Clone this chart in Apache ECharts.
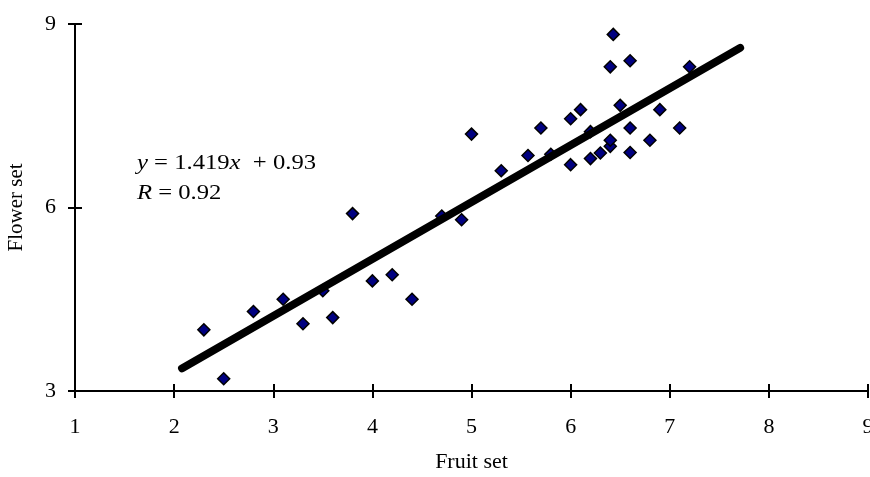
<!DOCTYPE html>
<html>
<head>
<meta charset="utf-8">
<script src="https://cdn.jsdelivr.net/npm/echarts@6/dist/echarts.min.js"></script>
<style>
  html, body { margin: 0; padding: 0; background: #fff; }
  #chart { width: 870px; height: 477px; }
</style>
</head>
<body>
<div id="chart"></div>
<script>
// 散点数据 (fruit set / flower set)
const fruitSet = [2.3, 2.5, 2.8, 3.1, 3.3, 3.5, 3.6, 3.8, 4.0, 4.2, 4.4, 4.7, 4.9, 5.0, 5.3, 5.57, 5.7, 5.8,
  6.0, 6.0, 6.1, 6.2, 6.2, 6.3, 6.4, 6.4, 6.4, 6.43, 6.5, 6.6, 6.6, 6.6, 6.8, 6.9, 7.1, 7.2]
const flowerSet = [4.0, 3.2, 4.3, 4.5, 4.1, 4.64, 4.2, 5.9, 4.8, 4.9, 4.5, 5.86, 5.8, 7.2, 6.6, 6.85, 7.3, 6.87,
  7.45, 6.7, 7.6, 7.24, 6.8, 6.89, 7.0, 7.1, 8.3, 8.83, 7.67, 8.4, 7.3, 6.9, 7.1, 7.6, 7.3, 8.3]
// 趋势线两端
const trendX = [2.08, 7.71]
const trendY = [3.37, 8.61]
const xTicks = [1, 9, 1]
const yTicks = [3, 9, 3]

const font = "'Liberation Serif', 'Times New Roman', serif"
const myChart = echarts.init(document.getElementById('chart'))

const axisLine = { show: true, lineStyle: { color: '#000', width: 2 } }
const option = {
  animation: false,
  grid: { left: 75, right: 2, top: 24, bottom: 86, outerBoundsMode: 'none' },
  xAxis: [{
    type: 'value',
    min: xTicks[0], max: xTicks[1], interval: xTicks[2],
    name: 'Fruit set',
    nameLocation: 'middle',
    nameGap: 60,
    nameTextStyle: { fontFamily: font, fontSize: 22, color: '#000' },
    axisLine: axisLine,
    axisTick: { show: true, length: 7, lineStyle: { color: '#000', width: 2 } },
    axisLabel: { fontFamily: font, fontSize: 22, color: '#000', margin: 25, showMaxLabel: true },
    splitLine: { show: false }
  }, {
    // 内侧刻度 (cross ticks)
    type: 'value', position: 'bottom',
    min: xTicks[0], max: xTicks[1], interval: xTicks[2],
    axisLine: axisLine,
    axisTick: { show: true, inside: true, length: 7, lineStyle: { color: '#000', width: 2 } },
    axisLabel: { show: false },
    splitLine: { show: false }
  }],
  yAxis: [{
    type: 'value',
    min: yTicks[0], max: yTicks[1], interval: yTicks[2],
    name: 'Flower set',
    nameLocation: 'middle',
    nameGap: 48,
    nameTextStyle: { fontFamily: font, fontSize: 21, color: '#000' },
    axisLine: axisLine,
    axisTick: { show: true, length: 7, lineStyle: { color: '#000', width: 2 } },
    axisLabel: { fontFamily: font, fontSize: 22, color: '#000', margin: 19 },
    splitLine: { show: false }
  }, {
    type: 'value', position: 'left',
    min: yTicks[0], max: yTicks[1], interval: yTicks[2],
    axisLine: axisLine,
    axisTick: { show: true, inside: true, length: 7, lineStyle: { color: '#000', width: 2 } },
    axisLabel: { show: false },
    splitLine: { show: false }
  }],
  graphic: [{
    type: 'text',
    x: 137,
    y: 148,
    scaleX: 1.12,
    style: {
      text: '{i|y} = 1.419{i|x}  + 0.93\n{i|R} = 0.92',
      font: '22px ' + font,
      fill: '#000',
      lineHeight: 30,
      rich: {
        i: { fontStyle: 'italic', fontFamily: font, fontSize: 22, fill: '#000', lineHeight: 30 }
      }
    }
  }],
  series: [{
    type: 'scatter',
    symbol: 'diamond',
    symbolSize: 12,
    itemStyle: { color: '#000080', borderColor: '#000', borderWidth: 1.5, opacity: 1 },
    data: fruitSet.map((x, i) => [x, flowerSet[i]]),
    z: 2
  }, {
    type: 'line',
    data: trendX.map((x, i) => [x, trendY[i]]),
    symbol: 'none',
    lineStyle: { color: '#000', width: 8, cap: 'round' },
    z: 5
  }]
}
myChart.setOption(option)
</script>
</body>
</html>
